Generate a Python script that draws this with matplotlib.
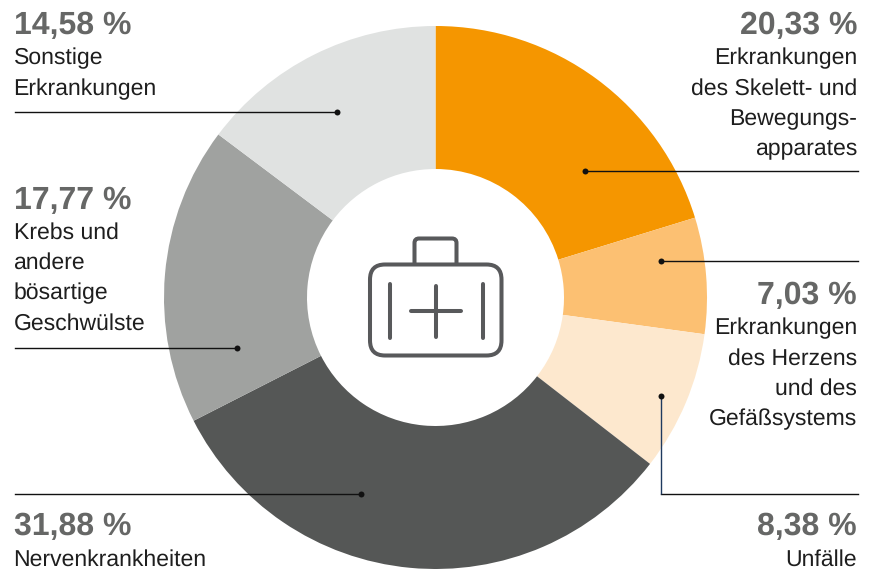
import matplotlib
matplotlib.use("Agg")
import matplotlib.pyplot as plt
from matplotlib.patches import FancyBboxPatch
from matplotlib.path import Path
from matplotlib.patches import PathPatch

plt.rcParams["font.family"] = ["Liberation Sans", "DejaVu Sans"]
plt.rcParams["text.hinting"] = "no_hinting"
plt.rcParams["text.hinting_factor"] = 1

W, H = 871, 569
values = [20.25, 6.91, 8.34, 32.0, 17.75, 14.75]
colors = ["#F59600", "#FCC072", "#FDE8CE", "#555756", "#A0A2A0", "#E0E2E1"]
percent_labels = ["20,33 %", "7,03 %", "8,38 %", "31,88 %", "17,77 %", "14,58 %"]
names = [
    ["Erkrankungen", "des Skelett- und", "Bewegungs-", "apparates"],
    ["Erkrankungen", "des Herzens", "und des", "Gefäßsystems"],
    ["Unfälle"],
    ["Nervenkrankheiten"],
    ["Krebs und", "andere", "bösartige", "Geschwülste"],
    ["Sonstige", "Erkrankungen"],
]
pct_y = [25.5, 295.5, 527, 527, 200.5, 25.5]
name_y = [58.5, 328.5, 559.5, 559.5, 232.5, 58.5]
ha = ["right", "right", "right", "left", "left", "left"]
text_x = [857, 857, 857, 13.5, 13.5, 13.5]
leaders = [
    [(858, 171), (585, 171)],
    [(858, 261), (661, 261)],
    [(858, 494), (661, 494), (661, 396)],
    [(15, 494), (361, 494)],
    [(15, 348), (237, 348)],
    [(15, 112), (337, 112)],
]
line_h = 30.35
line_color = "#111111"
riser_color = "#1F3A5F"

fig = plt.figure(figsize=(W / 100, H / 100), dpi=100)
ax = fig.add_axes([0, 0, 1, 1])
ax.set_xlim(0, W)
ax.set_ylim(H, 0)
ax.axis("off")

pie_ax = fig.add_axes([164 / W, 1 - 569 / H, 543 / W, 543 / H])
pie_ax.pie(values, colors=colors, startangle=90, counterclock=False, radius=1,
           wedgeprops=dict(width=1 - 128.5 / 271.5, linewidth=0))
pie_ax.set_xlim(-1, 1)
pie_ax.set_ylim(-1, 1)
pie_ax.set_zorder(0)
ax.set_zorder(1)
ax.patch.set_alpha(0)

for i in range(len(values)):
    ax.text(text_x[i], pct_y[i], percent_labels[i], ha=ha[i], va="center",
            fontsize=22.75, fontweight="bold", color="#666766")
    for j, line in enumerate(names[i]):
        ax.text(text_x[i], name_y[i] + j * line_h, line, ha=ha[i], va="center",
                fontsize=16.25, color="#1E1E1E")
    pts = leaders[i]
    for a, b in zip(pts[:-1], pts[1:]):
        c = riser_color if a[0] == b[0] else line_color
        ax.plot([a[0], b[0]], [a[1], b[1]], color=c, lw=1.0,
                solid_capstyle="butt" if a[0] == b[0] else "projecting")
    ax.plot(*pts[-1], "o", ms=4.3, mew=0, color=line_color)

ic = "#58595B"
lw = 2.9
ax.add_patch(FancyBboxPatch((370, 264.5), 131.5, 91, boxstyle="round,pad=0,rounding_size=15",
                            fc="none", ec=ic, lw=lw))
handle = Path([(414.5, 264), (414.5, 243), (414.5, 238.5), (419, 238.5), (452, 238.5),
               (456.5, 238.5), (456.5, 243), (456.5, 264)],
              [Path.MOVETO, Path.LINETO, Path.CURVE3, Path.CURVE3, Path.LINETO,
               Path.CURVE3, Path.CURVE3, Path.LINETO])
ax.add_patch(PathPatch(handle, fc="none", ec=ic, lw=lw))
for xs, ys in [([390, 390], [284, 338]), ([483, 483], [284, 338]),
               ([411, 461], [311, 311]), ([436, 436], [286, 337])]:
    ax.plot(xs, ys, color=ic, lw=lw, solid_capstyle="round")

fig.savefig("out.png", dpi=100)
